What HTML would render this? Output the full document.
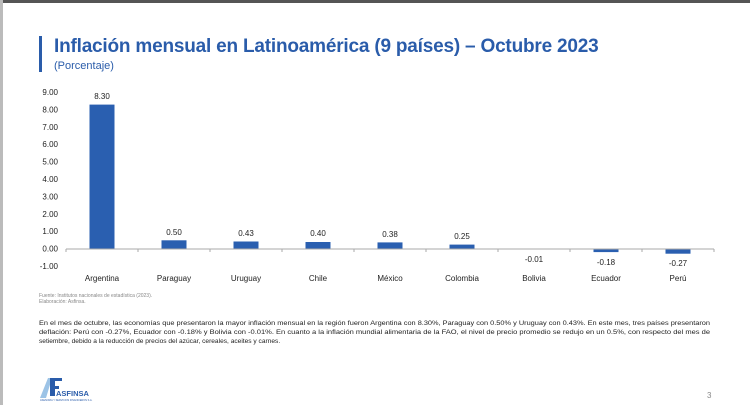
<!DOCTYPE html>
<html><head><meta charset="utf-8"><style>
body{margin:0;width:750px;height:405px;background:#fff;position:relative;overflow:hidden;font-family:"Liberation Sans",sans-serif;}
.abs{position:absolute;}
</style></head><body>
<div class="abs" style="left:0;top:0;width:750px;height:3px;background:#555"></div>
<div class="abs" style="left:0;top:0;width:3px;height:405px;background:#bbb"></div>
<div class="abs" style="left:39px;top:36px;width:3px;height:36px;background:#2a5caa"></div>
<div class="abs" style="left:54px;top:36px;font-size:19px;font-weight:bold;color:#2a5caa;letter-spacing:-0.2px;white-space:nowrap">Inflación mensual en Latinoamérica (9 países) – Octubre 2023</div>
<div class="abs" style="left:54px;top:60px;font-size:11px;color:#2a5caa">(Porcentaje)</div>
<svg class="abs" style="left:0;top:0" width="750" height="405" font-family="Liberation Sans, sans-serif">
<g font-size="8" fill="#222" text-anchor="end">
<text x="58" y="95">9.00</text><text x="58" y="112.4">8.00</text><text x="58" y="129.8">7.00</text><text x="58" y="147.2">6.00</text><text x="58" y="164.6">5.00</text><text x="58" y="182">4.00</text><text x="58" y="199.4">3.00</text><text x="58" y="216.8">2.00</text><text x="58" y="234.2">1.00</text><text x="58" y="251.6">0.00</text><text x="58" y="269">-1.00</text>
</g>
<g fill="#2a5fb0">
<rect x="89.5" y="104.6" width="25" height="144.4"/>
<rect x="161.5" y="240.3" width="25" height="8.7"/>
<rect x="233.5" y="241.5" width="25" height="7.5"/>
<rect x="305.5" y="242" width="25" height="7"/>
<rect x="377.5" y="242.4" width="25" height="6.6"/>
<rect x="449.5" y="244.6" width="25" height="4.4"/>
<rect x="593.5" y="249" width="25" height="3.1"/>
<rect x="665.5" y="249" width="25" height="4.7"/>
</g>
<line x1="66" y1="249" x2="714" y2="249" stroke="#aaa" stroke-width="1"/>
<g stroke="#aaa">
<line x1="66" y1="249" x2="66" y2="252"/><line x1="138" y1="249" x2="138" y2="252"/><line x1="210" y1="249" x2="210" y2="252"/><line x1="282" y1="249" x2="282" y2="252"/><line x1="354" y1="249" x2="354" y2="252"/><line x1="426" y1="249" x2="426" y2="252"/><line x1="498" y1="249" x2="498" y2="252"/><line x1="570" y1="249" x2="570" y2="252"/><line x1="642" y1="249" x2="642" y2="252"/><line x1="714" y1="249" x2="714" y2="252"/>
</g>
<g font-size="8" fill="#222" text-anchor="middle">
<text x="102" y="99">8.30</text><text x="174" y="235">0.50</text><text x="246" y="236">0.43</text><text x="318" y="236">0.40</text><text x="390" y="237">0.38</text><text x="462" y="239">0.25</text>
<text x="534" y="262">-0.01</text><text x="606" y="265">-0.18</text><text x="678" y="266">-0.27</text>
<text x="102" y="281">Argentina</text><text x="174" y="281">Paraguay</text><text x="246" y="281">Uruguay</text><text x="318" y="281">Chile</text><text x="390" y="281">México</text><text x="462" y="281">Colombia</text><text x="534" y="281">Bolivia</text><text x="606" y="281">Ecuador</text><text x="678" y="281">Perú</text>
</g>
<g font-size="5" fill="#888"><text x="39" y="297">Fuente: Institutos nacionales de estadística (2023).</text><text x="39" y="303">Elaboración: Asfinsa.</text></g>
<g font-size="6.6" fill="#222">
<text x="39" y="325" textLength="671" lengthAdjust="spacingAndGlyphs">En el mes de octubre, las economías que presentaron la mayor inflación mensual en la región fueron Argentina con 8.30%, Paraguay con 0.50% y Uruguay con 0.43%. En este mes, tres países presentaron</text>
<text x="39" y="334" textLength="671" lengthAdjust="spacingAndGlyphs">deflación: Perú con -0.27%, Ecuador con -0.18% y Bolivia con -0.01%. En cuanto a la inflación mundial alimentaria de la FAO, el nivel de precio promedio se redujo en un 0.5%, con respecto del mes de</text>
<text x="39" y="343">setiembre, debido a la reducción de precios del azúcar, cereales, aceites y carnes.</text>
</g>
<g>
<polygon points="40,398 48,378 52,378 46,398" fill="#9cc3e6"/>
<rect x="50" y="378" width="5" height="18" fill="#2a5caa"/>
<rect x="50" y="378" width="12" height="3" fill="#2a5caa"/>
<rect x="50" y="386" width="9" height="3" fill="#2a5caa"/>
<text x="56" y="396" font-size="7.5" font-weight="bold" fill="#2a5caa">ASFINSA</text>
<text x="40" y="401" font-size="2.5" fill="#2a5caa">ASESORIA Y SERVICIOS FINANCIEROS S.A.</text>
</g>
<text x="707" y="398" font-size="8" fill="#888">3</text>
</svg>
</body></html>
